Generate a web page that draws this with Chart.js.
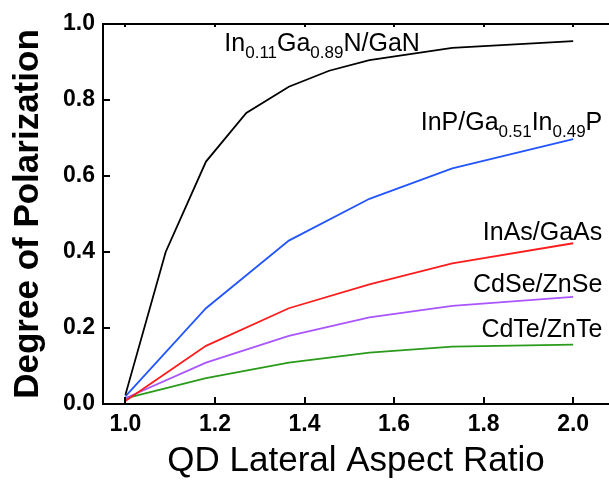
<!DOCTYPE html>
<html>
<head>
<meta charset="utf-8">
<script src="https://cdn.jsdelivr.net/npm/chart.js@4"></script>
<style>
  html, body { margin: 0; padding: 0; background: #fff; }
  #wrap { width: 609px; height: 482px; }
</style>
</head>
<body>
<div id="wrap"><canvas id="polChart"></canvas></div>
<script>
// aspect ratios sampled for the GaN curve (denser near 1)
const xGaN = [1.0, 1.09, 1.18, 1.27, 1.365, 1.455, 1.545, 1.73, 2.0];
const yGaN = [0.024, 0.40, 0.638, 0.766, 0.835, 0.877, 0.905, 0.937, 0.955];

// aspect ratios shared by the other four systems
const xOther = [1.0, 1.18, 1.365, 1.545, 1.73, 2.0];
const yInP  = [0.02, 0.252, 0.43, 0.54, 0.62, 0.697];
const yInAs = [0.008, 0.153, 0.252, 0.315, 0.370, 0.423];
const yCdSe = [0.015, 0.109, 0.179, 0.228, 0.258, 0.282];
const yCdTe = [0.015, 0.068, 0.109, 0.135, 0.151, 0.156];

const xTickLabels = [1.0, 1.2, 1.4, 1.6, 1.8, 2.0];
const yTickLabels = [0.0, 0.2, 0.4, 0.6, 0.8, 1.0];

const FONT = '"Liberation Sans", Arial, Helvetica, sans-serif';

function pts(xs, ys) {
  return xs.map((x, i) => ({ x: x, y: ys[i] }));
}

// curve labels: [x, y] anchor in data units, segments of [text, isSubscript]
const curveLabels = [
  { at: [1.221, 0.929], align: 'left',  parts: [['In', 0], ['0.11', 1], ['Ga', 0], ['0.89', 1], ['N/GaN', 0]] },
  { at: [2.065, 0.721], align: 'right', parts: [['InP/Ga', 0], ['0.51', 1], ['In', 0], ['0.49', 1], ['P', 0]] },
  { at: [2.065, 0.432], align: 'right', parts: [['InAs/GaAs', 0]] },
  { at: [2.065, 0.295], align: 'right', parts: [['CdSe/ZnSe', 0]] },
  { at: [2.065, 0.176], align: 'right', parts: [['CdTe/ZnTe', 0]] }
];

const framePlugin = {
  id: 'frame',
  afterDatasetsDraw(chart) {
    const { ctx, chartArea: a, scales: { x, y } } = chart;
    ctx.save();
    ctx.strokeStyle = '#000';
    ctx.lineWidth = 2;
    ctx.beginPath();
    // top line of the box
    ctx.moveTo(a.left, a.top);
    ctx.lineTo(a.right, a.top);
    // inward ticks
    xTickLabels.forEach(v => {
      const px = Math.round(x.getPixelForValue(v));
      ctx.moveTo(px, a.bottom);
      ctx.lineTo(px, a.bottom - 7);
      ctx.moveTo(px, a.top);
      ctx.lineTo(px, a.top + 3);
    });
    yTickLabels.forEach(v => {
      const py = Math.round(y.getPixelForValue(v));
      ctx.moveTo(a.left, py);
      ctx.lineTo(a.left + 7, py);
    });
    ctx.stroke();

    // curve labels with subscripts
    ctx.fillStyle = '#000';
    ctx.textBaseline = 'alphabetic';
    const big = '25px ' + FONT, small = '17px ' + FONT;
    curveLabels.forEach(l => {
      let total = 0;
      l.parts.forEach(p => { ctx.font = p[1] ? small : big; total += ctx.measureText(p[0]).width; });
      let px = x.getPixelForValue(l.at[0]);
      const py = y.getPixelForValue(l.at[1]);
      if (l.align === 'right') px -= total;
      l.parts.forEach(p => {
        ctx.font = p[1] ? small : big;
        ctx.fillText(p[0], px, p[1] ? py + 7 : py);
        px += ctx.measureText(p[0]).width;
      });
    });
    ctx.restore();
  }
};

const ctx = document.getElementById('polChart');
new Chart(ctx, {
  type: 'line',
  data: {
    datasets: [
      { label: 'GaN',  data: pts(xGaN, yGaN),    borderColor: '#000000' },
      { label: 'InP',  data: pts(xOther, yInP),  borderColor: '#2255ff' },
      { label: 'InAs', data: pts(xOther, yInAs), borderColor: '#ff1c1c' },
      { label: 'CdSe', data: pts(xOther, yCdSe), borderColor: '#aa55ff' },
      { label: 'CdTe', data: pts(xOther, yCdTe), borderColor: '#2a9a1a' }
    ]
  },
  options: {
    responsive: true,
    maintainAspectRatio: false,
    animation: false,
    datasets: { line: { borderWidth: 1.8, pointRadius: 0, tension: 0, fill: false } },
    layout: { padding: { top: 24, left: 0, right: 0, bottom: 0 } },
    plugins: { legend: { display: false }, tooltip: { enabled: false } },
    scales: {
      x: {
        type: 'linear',
        min: 0.95,
        max: 2.08,
        afterFit(s) { s.height = 78; },
        afterBuildTicks(s) { s.ticks = xTickLabels.map(v => ({ value: v })); },
        grid: { display: false, drawTicks: false },
        border: { display: true, color: '#000', width: 2 },
        ticks: {
          color: '#000',
          padding: 7,
          maxRotation: 0,
          font: { family: FONT, size: 23, weight: 'bold' },
          callback: v => v.toFixed(1)
        },
        title: {
          display: true,
          text: 'QD Lateral Aspect Ratio',
          color: '#000',
          padding: { top: 0, bottom: 0 },
          font: { family: FONT, size: 35 }
        }
      },
      y: {
        min: 0,
        max: 1,
        afterFit(s) { s.width = 103; },
        afterBuildTicks(s) { s.ticks = yTickLabels.map(v => ({ value: v })); },
        grid: { display: false, drawTicks: false },
        border: { display: true, color: '#000', width: 2 },
        ticks: {
          color: '#000',
          padding: 8,
          font: { family: FONT, size: 23, weight: 'bold' },
          callback: v => v.toFixed(1)
        },
        title: {
          display: true,
          text: 'Degree of Polarization',
          color: '#000',
          padding: { top: 7, bottom: 0 },
          font: { family: FONT, size: 35, weight: 'bold' }
        }
      }
    }
  },
  plugins: [framePlugin]
});
</script>
</body>
</html>
